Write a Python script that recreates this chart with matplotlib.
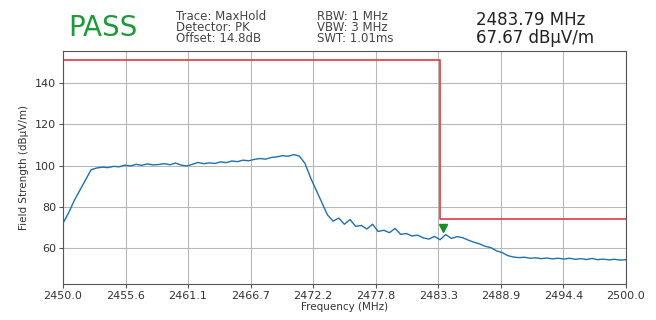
import numpy as np
import matplotlib
matplotlib.use("Agg")
import matplotlib.pyplot as plt

# ---- data ----
freq_start, freq_stop = 2450.0, 2500.0
trace_values = [
    72, 77, 83, 88, 93, 98, 98.8, 99.2, 99.0, 99.6,
    99.4, 100.2, 99.8, 100.6, 100.1, 100.8, 100.3, 100.5, 100.9, 100.4,
    101.2, 100.2, 99.8, 100.6, 101.5, 100.9, 101.3, 101.0, 101.8, 101.4,
    102.2, 101.9, 102.6, 102.3, 103.0, 103.4, 103.1, 103.9, 104.2, 104.8,
    104.5, 105.3, 104.6, 101, 94, 88, 82, 76, 73, 74.5,
    71.5, 73.8, 70.5, 70.9, 69.2, 71.5, 68.0, 68.6, 67.4, 69.5,
    66.6, 67.0, 65.8, 66.2, 64.9, 64.3, 65.6, 64.0, 66.5, 64.6,
    65.5, 65.0, 63.8, 62.8, 62.0, 60.8, 60.2, 58.6, 57.8, 56.3,
    55.6, 55.3, 55.5, 55.0, 55.2, 54.8, 55.1, 54.7, 55.0, 54.6,
    55.0, 54.5, 54.8, 54.4, 54.9, 54.3, 54.6, 54.2, 54.5, 54.1,
    54.3,
]
freqs = np.linspace(freq_start, freq_stop, len(trace_values))

limit_freqs = [2450.0, 2483.5, 2483.5, 2500.0]
limit_values = [151, 151, 74, 74]

marker_freq = 2483.79
marker_level = 67.67

xtick_values = np.linspace(freq_start, freq_stop, 10)
ytick_values = [60, 80, 100, 120, 140]

info_left = ["Trace: MaxHold", "Detector: PK", "Offset: 14.8dB"]
info_right = ["RBW: 1 MHz", "VBW: 3 MHz", "SWT: 1.01ms"]

# ---- figure ----
fig = plt.figure(figsize=(6.56, 3.2), dpi=100)
ax = fig.add_axes([0.096, 0.1125, 0.858, 0.7275])

ax.plot(freqs, trace_values, color="#1f70ad", lw=1.0)
ax.plot(limit_freqs, limit_values, color="#e0393e", lw=1.2)
ax.plot([marker_freq], [marker_level + 2.0], marker="v", color="#1a8a2a",
        markersize=6, linestyle="none")

ax.set_xlim(freq_start, freq_stop)
ax.set_ylim(42.5, 155.5)
ax.set_xticks(xtick_values)
ax.set_xticklabels([f"{v:.1f}" for v in xtick_values], fontsize=8, color="#333333")
ax.set_yticks(ytick_values)
ax.set_yticklabels([str(v) for v in ytick_values], fontsize=8, color="#333333")
ax.grid(True, color="#b8b8b8", lw=0.8)
ax.set_axisbelow(True)
for s in ax.spines.values():
    s.set_color("#555555")
ax.tick_params(length=3, color="#555555", pad=2)
ax.set_xlabel("Frequency (MHz)", fontsize=7.5, color="#333333", labelpad=1)
ax.set_ylabel("Field Strength (dBµV/m)", fontsize=7.5, color="#333333", labelpad=4)

# header texts
fig.text(68/656, 1 - 28/320, "PASS", fontsize=20, color="#1f9a3a", va="center", ha="left")
fig.text(176/656, 1 - 27.5/320, "\n".join(info_left), fontsize=8.5, color="#444444",
         va="center", linespacing=0.82)
fig.text(317/656, 1 - 27.5/320, "\n".join(info_right), fontsize=8.5, color="#444444",
         va="center", linespacing=0.82)
fig.text(476/656, 1 - 29/320,
         f"{marker_freq:.2f} MHz\n{marker_level:.2f} dBµV/m",
         fontsize=12, color="#222222", va="center", linespacing=0.95)

fig.savefig("out.png", dpi=100)
